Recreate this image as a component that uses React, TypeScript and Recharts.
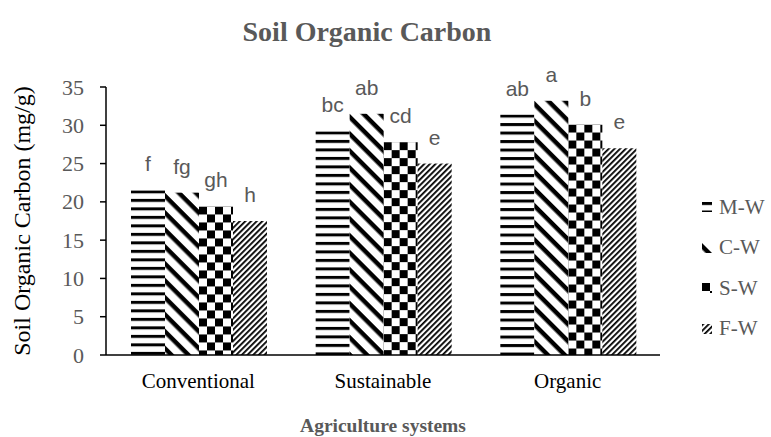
import React from 'react';
import { BarChart, Bar, XAxis, YAxis, LabelList, Legend } from 'recharts';

const categories = ['Conventional', 'Sustainable', 'Organic'];
const mwValues = [21.5, 29.2, 31.4];
const cwValues = [21.2, 31.5, 33.2];
const swValues = [19.4, 27.8, 30.1];
const fwValues = [17.5, 25.0, 27.0];
const mwLetters = ['f', 'bc', 'ab'];
const cwLetters = ['fg', 'ab', 'a'];
const swLetters = ['gh', 'cd', 'b'];
const fwLetters = ['h', 'e', 'e'];
const seriesNames = ['M-W', 'C-W', 'S-W', 'F-W'];
const yTicks = [0, 5, 10, 15, 20, 25, 30, 35];

const data = categories.map((c, i) => ({
  name: c,
  mw: mwValues[i],
  cw: cwValues[i],
  sw: swValues[i],
  fw: fwValues[i],
  mwL: mwLetters[i],
  cwL: cwLetters[i],
  swL: swLetters[i],
  fwL: fwLetters[i],
}));

const patternIds = ['pMW', 'pCW', 'pSW', 'pFW'];
const keys = ['mw', 'cw', 'sw', 'fw'];
const letterKeys = ['mwL', 'cwL', 'swL', 'fwL'];

const serif = "'Liberation Serif', 'Times New Roman', serif";
const sans = "'Liberation Sans', Arial, sans-serif";
const grey = '#595959';

const Patterns = () => (
  <defs>
    <pattern id="pMW" patternUnits="userSpaceOnUse" width="10" height="8.5">
      <rect x="0" y="0" width="10" height="8.5" fill="#fff" />
      <rect x="0" y="0" width="10" height="3" fill="#000" />
    </pattern>
    <pattern id="pCW" patternUnits="userSpaceOnUse" width="12" height="12" patternTransform="rotate(45)">
      <rect x="0" y="0" width="12" height="12" fill="#fff" />
      <rect x="0" y="0" width="12" height="4.5" fill="#000" />
    </pattern>
    <pattern id="pSW" patternUnits="userSpaceOnUse" width="16" height="16">
      <rect x="0" y="0" width="16" height="16" fill="#fff" />
      <rect x="0" y="0" width="8" height="8" fill="#000" />
      <rect x="8" y="8" width="8" height="8" fill="#000" />
    </pattern>
    <pattern id="pFW" patternUnits="userSpaceOnUse" width="4" height="4" patternTransform="rotate(-45)">
      <rect x="0" y="0" width="4" height="4" fill="#fff" />
      <rect x="0" y="0" width="4" height="1.8" fill="#000" />
    </pattern>
  </defs>
);

const PatternBar = (props: any) => {
  const { x, y, width, height, fill } = props;
  if (!width || !height) return null;
  return (
    <g transform={`translate(${x},${y})`}>
      <rect x={0} y={0} width={width} height={height} fill={fill} />
    </g>
  );
};

const renderLegend = () => (
  <div style={{ fontFamily: serif, fontSize: 21, color: grey }}>
    {seriesNames.map((n, i) => (
      <div key={n} style={{ display: 'flex', alignItems: 'center', height: 40.5 }}>
        <svg width={10} height={10} style={{ marginRight: 7 }}>
          <rect x={0} y={0} width={10} height={10} fill={`url(#${patternIds[i]})`} />
        </svg>
        <span>{n}</span>
      </div>
    ))}
  </div>
);

const XTick = (props: any) => {
  const { x, y, payload } = props;
  return (
    <text x={x} y={y + 31} textAnchor="middle" style={{ fontFamily: serif, fontSize: 21, fill: '#000' }}>
      {payload.value}
    </text>
  );
};

const YTick = (props: any) => {
  const { x, y, payload } = props;
  return (
    <text x={x - 14} y={y} textAnchor="end" dominantBaseline="central" style={{ fontFamily: serif, fontSize: 22, fill: grey }}>
      {payload.value}
    </text>
  );
};

export default function App() {
  return (
    <div style={{ position: 'absolute', left: 0, top: 0, width: 771, height: 437, background: '#fff' }}>
      <BarChart
        width={771}
        height={437}
        data={data}
        margin={{ top: 87, right: 111, bottom: 0, left: 6 }}
        barGap={0}
        barCategoryGap={25}
      >
        <Patterns />
        <text x={367} y={31} textAnchor="middle" dominantBaseline="central" style={{ fontFamily: serif, fontWeight: 'bold', fontSize: 28, fill: grey }}>
          Soil Organic Carbon
        </text>
        <XAxis
          dataKey="name"
          height={82}
          tickLine={false}
          tickSize={0}
          axisLine={{ stroke: '#000', strokeWidth: 1.5 }}
          tick={<XTick />}
          label={{
            content: () => (
              <text x={383} y={425} textAnchor="middle" dominantBaseline="central" style={{ fontFamily: serif, fontWeight: 'bold', fontSize: 19.5, fill: grey }}>
                Agriculture systems
              </text>
            ),
          }}
        />
        <YAxis
          width={100}
          domain={[0, 35]}
          ticks={yTicks}
          interval={0}
          tickSize={6}
          axisLine={{ stroke: '#000', strokeWidth: 1.5 }}
          tickLine={{ stroke: '#000', strokeWidth: 1.5 }}
          tick={<YTick />}
          label={{
            content: () => (
              <text x={22} y={221} transform="rotate(-90 22 221)" textAnchor="middle" dominantBaseline="central" style={{ fontFamily: serif, fontSize: 24, fill: '#000' }}>
                Soil Organic Carbon (mg/g)
              </text>
            ),
          }}
        />
        <Legend
          layout="vertical"
          align="center"
          verticalAlign="middle"
          content={renderLegend}
          wrapperStyle={{ position: 'absolute', left: 702, top: 187, width: 69 }}
        />
        {keys.map((k, i) => (
          <Bar key={k} dataKey={k} name={seriesNames[i]} fill={`url(#${patternIds[i]})`} shape={<PatternBar />} isAnimationActive={false}>
            <LabelList
              dataKey={letterKeys[i]}
              position="top"
              offset={19}
              style={{ fontFamily: sans, fontSize: 21, fill: grey }}
            />
          </Bar>
        ))}
      </BarChart>
    </div>
  );
}
